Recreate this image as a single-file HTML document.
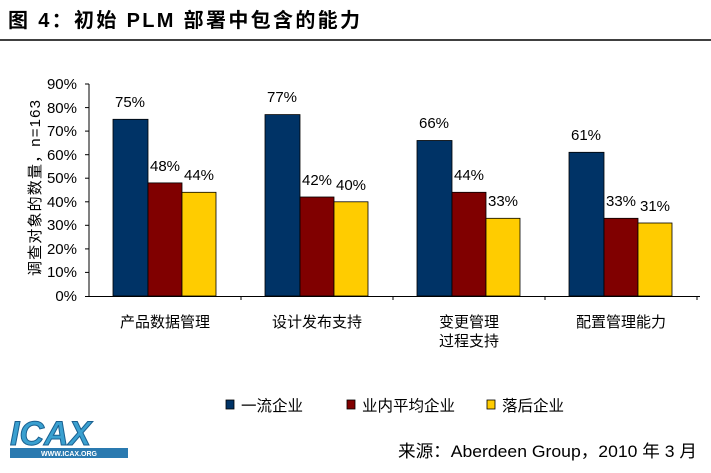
<!DOCTYPE html>
<html><head><meta charset="utf-8"><style>
body{margin:0;background:#fff;width:711px;height:468px;overflow:hidden;font-family:"Liberation Sans","Noto Sans CJK SC",sans-serif}
</style></head><body>
<svg width="711" height="468" xmlns="http://www.w3.org/2000/svg" font-family="Liberation Sans, Noto Sans CJK SC, sans-serif">
<text x="8" y="27" font-size="20" font-weight="bold" fill="#000" textLength="352" lengthAdjust="spacing">图 4：初始 PLM 部署中包含的能力</text>
<line x1="0" y1="40" x2="711" y2="40" stroke="#000" stroke-width="1.5"/>
<g font-size="15" fill="#000" text-anchor="end">
<text x="77" y="89">90%</text><text x="77" y="113">80%</text><text x="77" y="136">70%</text>
<text x="77" y="160">60%</text><text x="77" y="183">50%</text><text x="77" y="207">40%</text>
<text x="77" y="230">30%</text><text x="77" y="254">20%</text><text x="77" y="277">10%</text>
<text x="77" y="301">0%</text>
</g>
<g stroke="#000" stroke-width="1">
<line x1="89" y1="84" x2="89" y2="297"/>
<line x1="85" y1="296.5" x2="700" y2="296.5"/>
<line x1="85" y1="84" x2="89" y2="84"/><line x1="85" y1="107.6" x2="89" y2="107.6"/>
<line x1="85" y1="131.1" x2="89" y2="131.1"/><line x1="85" y1="154.7" x2="89" y2="154.7"/>
<line x1="85" y1="178.2" x2="89" y2="178.2"/><line x1="85" y1="201.8" x2="89" y2="201.8"/>
<line x1="85" y1="225.3" x2="89" y2="225.3"/><line x1="85" y1="248.9" x2="89" y2="248.9"/>
<line x1="85" y1="272.4" x2="89" y2="272.4"/>
<line x1="241" y1="296" x2="241" y2="300"/><line x1="393" y1="296" x2="393" y2="300"/><line x1="545" y1="296" x2="545" y2="300"/><line x1="697" y1="296" x2="697" y2="300"/>
</g>
<text transform="translate(40,188) rotate(-90)" font-size="15" text-anchor="middle" textLength="176" lengthAdjust="spacing">调查对象的数量，n=163</text>
<g stroke="#000" stroke-width="0.8">
<rect x="113" y="119.3" width="35" height="176.7" fill="#003366"/>
<rect x="148" y="182.9" width="34" height="113.1" fill="#800000"/>
<rect x="182" y="192.3" width="34" height="103.7" fill="#ffcc00"/>
<rect x="265" y="114.6" width="35" height="181.4" fill="#003366"/>
<rect x="300" y="197" width="34" height="99" fill="#800000"/>
<rect x="334" y="201.8" width="34" height="94.2" fill="#ffcc00"/>
<rect x="417" y="140.5" width="35" height="155.5" fill="#003366"/>
<rect x="452" y="192.3" width="34" height="103.7" fill="#800000"/>
<rect x="486" y="218.3" width="34" height="77.7" fill="#ffcc00"/>
<rect x="569" y="152.3" width="35" height="143.7" fill="#003366"/>
<rect x="604" y="218.3" width="34" height="77.7" fill="#800000"/>
<rect x="638" y="223" width="34" height="73" fill="#ffcc00"/>
</g>
<g font-size="15" text-anchor="middle">
<text x="130" y="107">75%</text><text x="165" y="171">48%</text><text x="199" y="180">44%</text>
<text x="282" y="102">77%</text><text x="317" y="185">42%</text><text x="351" y="190">40%</text>
<text x="434" y="128">66%</text><text x="469" y="180">44%</text><text x="503" y="206">33%</text>
<text x="586" y="140">61%</text><text x="621" y="206">33%</text><text x="655" y="211">31%</text>
</g>
<g font-size="15" text-anchor="middle">
<text x="165" y="327">产品数据管理</text>
<text x="317" y="327">设计发布支持</text>
<text x="469" y="327">变更管理</text><text x="469" y="346">过程支持</text>
<text x="621" y="327">配置管理能力</text>
</g>
<g stroke="#000" stroke-width="0.8">
<rect x="226" y="400" width="8" height="9" fill="#003366"/>
<rect x="347" y="400" width="8" height="9" fill="#800000"/>
<rect x="487" y="400" width="8" height="9" fill="#ffcc00"/>
</g>
<g font-size="15.5">
<text x="241" y="411">一流企业</text>
<text x="362" y="411">业内平均企业</text>
<text x="502" y="411">落后企业</text>
</g>
<text x="398" y="457" font-size="17" textLength="299" lengthAdjust="spacingAndGlyphs">来源：Aberdeen Group，2010 年 3 月</text>
<g>
<text x="10" y="445" font-size="34" font-style="italic" font-weight="bold" fill="#3aa0d0" stroke="#1a6090" stroke-width="1">ICAX</text>
<rect x="10" y="448" width="118" height="10" fill="#2a7ab0"/>
<text x="69" y="456" font-size="7" fill="#fff" text-anchor="middle" font-weight="bold">WWW.ICAX.ORG</text>
</g>
</svg>
</body></html>
